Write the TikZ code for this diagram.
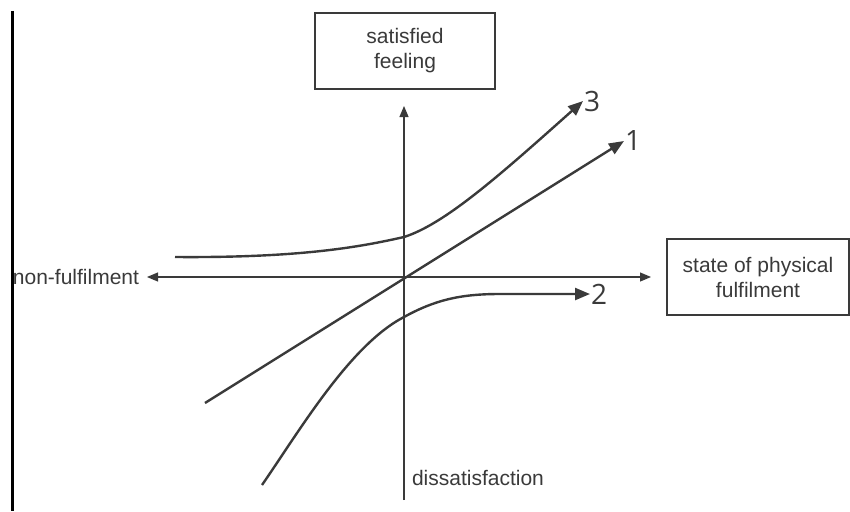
\documentclass[tikz,border=0pt]{standalone}
\usepackage{fontspec}
\setmainfont{Liberation Sans}
\newfontfamily\numfont{Open Sans}
\usetikzlibrary{arrows.meta, positioning}
\definecolor{ink}{HTML}{3A3A3A}
\tikzset{
  labelbox/.style={rectangle, draw=ink, line width=1.3pt, text=ink, align=center,
                   minimum width=180pt, minimum height=76pt, font=\fontsize{21}{25}\selectfont},
  axislabel/.style={text=ink, inner sep=0pt, outer sep=0pt, font=\fontsize{21}{25}\selectfont},
  numlabel/.style={text=ink, inner sep=1pt, font=\numfont\fontsize{28}{30}\selectfont},
  axis/.style={draw=ink, line width=1.2pt, -{Triangle[length=11pt,width=9pt]}},
  curve/.style={draw=ink, line width=2.4pt, -{Triangle[length=15pt,width=12pt]}}
}
\begin{document}
\begin{tikzpicture}[x=1pt, y=-1pt]
  \useasboundingbox (0,0) rectangle (850,511);
  \draw[black, line width=3pt] (12,11) -- (12,511);

  \node[labelbox] (sat) at (405,51) {satisfied\\feeling};
  \node[labelbox, minimum width=182pt] (phys) at (758,277) {state of physical\\fulfilment};
  \node[axislabel, anchor=east] (nonful) at (139,277) {non-fulfilment};
  \node[axislabel, anchor=west] (dissat) at (412,478) {dissatisfaction};

  \coordinate (origin) at (404,277);
  \coordinate (xleft) at (147,277);
  \coordinate (xright) at (651,277);
  \coordinate (ytop) at (404,106);
  \coordinate (ybot) at (404,500);

  \draw[axis] (origin) -- (xleft);
  \draw[axis] (origin) -- (xright);
  \draw[axis] (ybot) -- (ytop);

  \coordinate (s1) at (205,403);
  \coordinate (e1) at (624,141);
  \coordinate (s2) at (262,485);
  \coordinate (e2) at (590,294);
  \coordinate (s3) at (175,257);
  \coordinate (e3) at (583,101);

  \draw[curve] (s1) -- (e1);
  \draw[curve] (s2) .. controls (300,430) and (350,345) .. (404,317)
                    .. controls (435,300) and (460,294) .. (500,294) -- (e2);
  \draw[curve] (s3) .. controls (300,258) and (360,247) .. (404,237)
                    .. controls (445,224) and (500,175) .. (e3);

  \node[numlabel, anchor=west] (n1) at (e1) {1};
  \node[numlabel, anchor=west] (n2) at (e2) {2};
  \node[numlabel, anchor=west] (n3) at (e3) {3};
\end{tikzpicture}
\end{document}
